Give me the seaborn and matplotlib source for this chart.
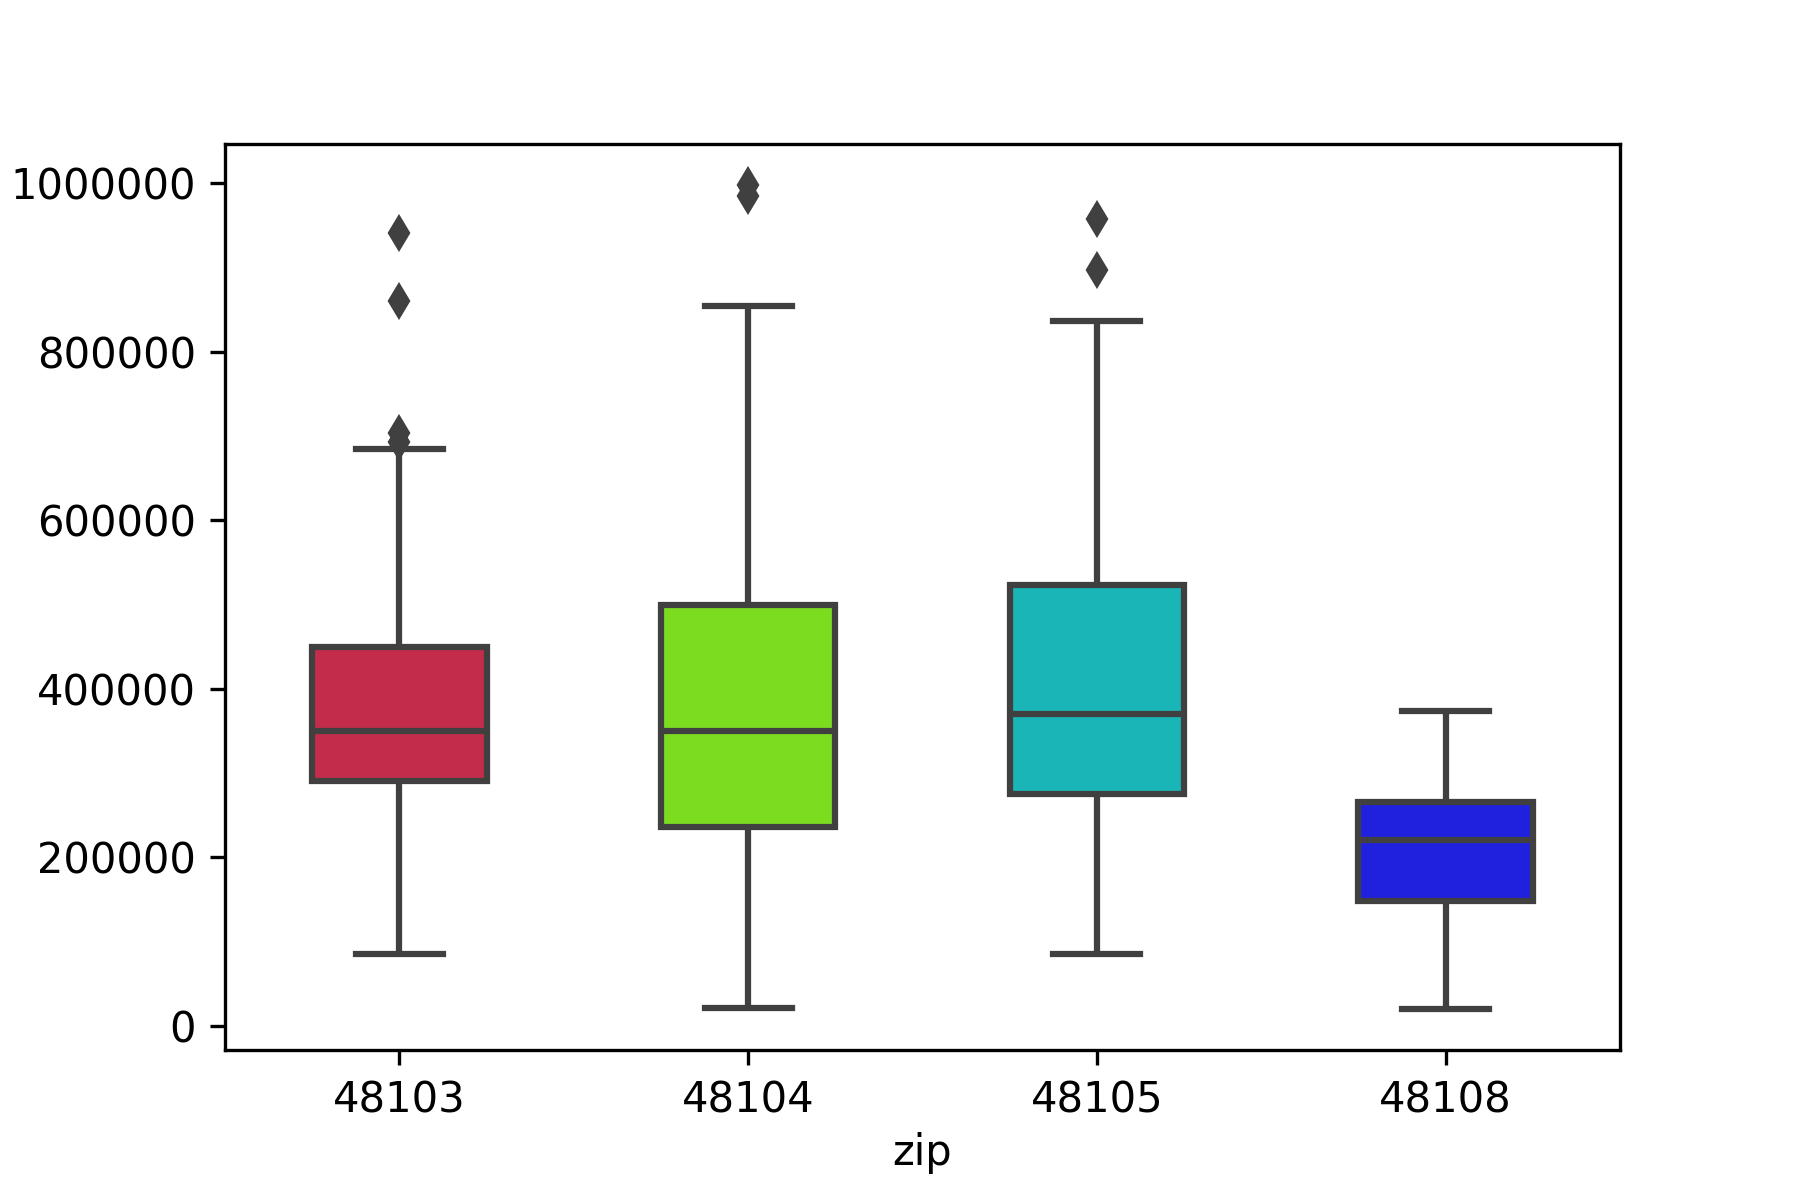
import matplotlib
matplotlib.use("Agg")
import matplotlib.pyplot as plt
import numpy as np
import pandas as pd
import seaborn as sns

# house prices per zip code (sorted samples)
zips = ["48103", "48104", "48105", "48108"]
price_48103 = [85000, 150000, 199000, 239000, 265000, 291000, 305000, 318000, 329000, 340000,
               350000, 372000, 395000, 415000, 435000, 450000, 685000, 693000, 704000, 860000, 941000]
price_48104 = [21000, 89000, 142000, 185000, 215000, 236000, 262000, 289000, 310000, 332000,
               350000, 380000, 410000, 440000, 472000, 500000, 580000, 690000, 855000, 985000, 998000]
price_48105 = [85000, 140000, 185000, 225000, 255000, 275000, 295000, 315000, 335000, 352000,
               370000, 399000, 430000, 460000, 495000, 523000, 610000, 720000, 837000, 897000, 958000]
price_48108 = [20000, 60000, 95000, 118000, 135000, 148000, 162000, 178000, 192000, 207000,
               220000, 228000, 237000, 247000, 257000, 266000, 290000, 310000, 332000, 355000, 374000]
colors = ["crimson", "lawngreen", "darkturquoise", "blue"]

prices = [price_48103, price_48104, price_48105, price_48108]
df = pd.DataFrame({
    "zip": np.repeat(zips, [len(p) for p in prices]),
    "price": np.concatenate(prices),
})

fig, ax = plt.subplots(figsize=(6, 4), dpi=300)
fig.subplots_adjust(bottom=0.125)

sns.boxplot(data=df, x="zip", y="price", hue="zip", order=zips, hue_order=zips,
            palette=colors, width=0.5, saturation=0.75, linecolor="#404040",
            linewidth=1.5, fliersize=5, legend=False, ax=ax,
            flierprops=dict(marker="d", markerfacecolor="#404040",
                            markeredgecolor="#404040"))

ax.set_ylabel("")
ax.set_xlabel("zip", labelpad=2.5)
ax.ticklabel_format(style="plain", axis="y")

plt.savefig("out.png")
